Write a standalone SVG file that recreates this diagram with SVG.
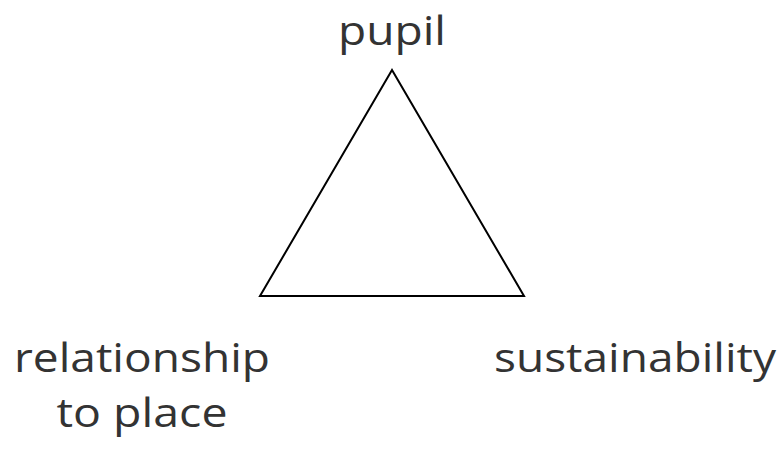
<svg xmlns="http://www.w3.org/2000/svg" width="784" height="450" viewBox="0 0 784 450">
<style>
text{font-family:"Open Sans","Noto Sans",sans-serif;font-size:41px;fill:#333333;}
.edge{fill:none;stroke:#000000;stroke-width:2;stroke-linejoin:miter;}
</style>
<rect width="784" height="450" fill="#ffffff"/>
<g id="connectors">
<polygon class="edge" points="392,70 260,296 524,296"/>
</g>
<g id="node-pupil">
<text x="392" y="45" text-anchor="middle" textLength="108" lengthAdjust="spacingAndGlyphs">pupil</text>
</g>
<g id="node-relationship">
<text x="142" y="372" text-anchor="middle" textLength="256" lengthAdjust="spacingAndGlyphs">relationship</text>
<text x="142" y="427" text-anchor="middle" textLength="171" lengthAdjust="spacingAndGlyphs">to place</text>
</g>
<g id="node-sustainability">
<text x="635" y="372" text-anchor="middle" textLength="282" lengthAdjust="spacingAndGlyphs">sustainability</text>
</g>
</svg>
